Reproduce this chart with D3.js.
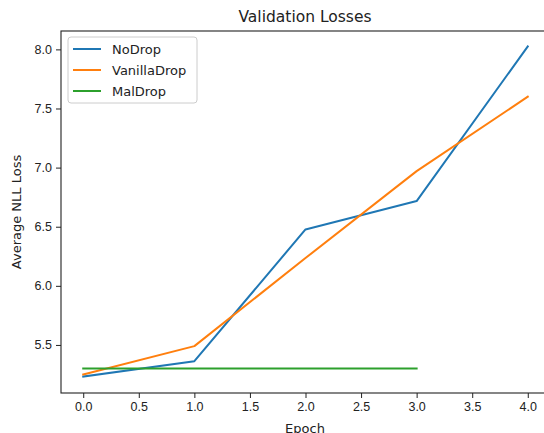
<!DOCTYPE html>
<html>
<head>
<meta charset="UTF-8">
<style>
html, body { margin:0; padding:0; background:#fff; }
svg { display:block; font-family: "DejaVu Sans", sans-serif; }
.tick text { font-size:12.5px; fill:#222; }
.tick line { stroke:#222; }
</style>
</head>
<body>
<svg width="544" height="433"></svg>
<script src="https://d3js.org/d3.v7.min.js"></script>
<script>
var epochs = [0, 1, 2, 3, 4];
var noDrop = [5.233, 5.363, 6.477, 6.717, 8.025];
var vanillaDrop = [5.25, 5.49, 6.235, 6.97, 7.60];
var malDrop = [5.30, 5.30, 5.30, 5.30];
var xTicks = [0, 0.5, 1, 1.5, 2, 2.5, 3, 3.5, 4];
var yTicks = [5.5, 6.0, 6.5, 7.0, 7.5, 8.0];

var series = [
  { name: "NoDrop", values: noDrop, color: "#1f77b4" },
  { name: "VanillaDrop", values: vanillaDrop, color: "#ff7f0e" },
  { name: "MalDrop", values: malDrop, color: "#2ca02c" }
];

var svg = d3.select("svg");
var plotL = 61, plotR = 550, plotT = 31, plotB = 393;

var x = d3.scaleLinear().domain([-0.2, 4.2]).range([plotL, plotR]);
var y = d3.scaleLinear().domain([5.0935, 8.1555]).range([plotB, plotT]);

// axes
svg.append("g")
    .attr("transform", "translate(0," + plotB + ")")
    .call(d3.axisBottom(x).tickValues(xTicks).tickFormat(d3.format(".1f")).tickSizeOuter(0).tickSize(5).tickPadding(4))
    .call(function(g) { g.select(".domain").remove(); });

svg.append("g")
    .attr("transform", "translate(" + plotL + ",0)")
    .call(d3.axisLeft(y).tickValues(yTicks).tickFormat(d3.format(".1f")).tickSizeOuter(0).tickSize(5).tickPadding(4))
    .call(function(g) { g.select(".domain").remove(); });

// lines
var line = d3.line()
    .x(function(d, i) { return x(epochs[i]); })
    .y(function(d) { return y(d); });

svg.append("g").selectAll("path")
    .data(series)
  .enter().append("path")
    .attr("d", function(d) { return line(d.values); })
    .attr("fill", "none")
    .attr("stroke", function(d) { return d.color; })
    .attr("stroke-width", 2)
    .attr("stroke-linejoin", "round")
    .attr("stroke-linecap", "square");

// spines
svg.append("rect")
    .attr("x", plotL).attr("y", plotT)
    .attr("width", plotR - plotL).attr("height", plotB - plotT)
    .attr("fill", "none").attr("stroke", "#222").attr("stroke-width", 1.1);

// legend
var legend = svg.append("g");
legend.append("rect")
    .attr("x", 68).attr("y", 37).attr("width", 129).attr("height", 66)
    .attr("rx", 3).attr("fill", "#fff").attr("fill-opacity", 0.8)
    .attr("stroke", "#ccc").attr("stroke-width", 1);
var item = legend.selectAll("g.item")
    .data(series)
  .enter().append("g")
    .attr("class", "item")
    .attr("transform", function(d, i) { return "translate(0," + (49 + i * 21) + ")"; });
item.append("line")
    .attr("x1", 73).attr("x2", 101)
    .attr("stroke", function(d) { return d.color; })
    .attr("stroke-width", 2);
item.append("text")
    .attr("x", 112).attr("y", 4.5)
    .attr("font-size", "13px").attr("fill", "#222")
    .text(function(d) { return d.name; });

// titles
svg.append("text")
    .attr("x", 305).attr("y", 22)
    .attr("text-anchor", "middle")
    .attr("font-size", "15.5px").attr("fill", "#222")
    .text("Validation Losses");

svg.append("text")
    .attr("x", 305).attr("y", 433)
    .attr("text-anchor", "middle")
    .attr("font-size", "13px").attr("fill", "#222")
    .text("Epoch");

svg.append("text")
    .attr("transform", "translate(21,212) rotate(-90)")
    .attr("text-anchor", "middle")
    .attr("font-size", "13px").attr("fill", "#222")
    .text("Average NLL Loss");
</script>
</body>
</html>
